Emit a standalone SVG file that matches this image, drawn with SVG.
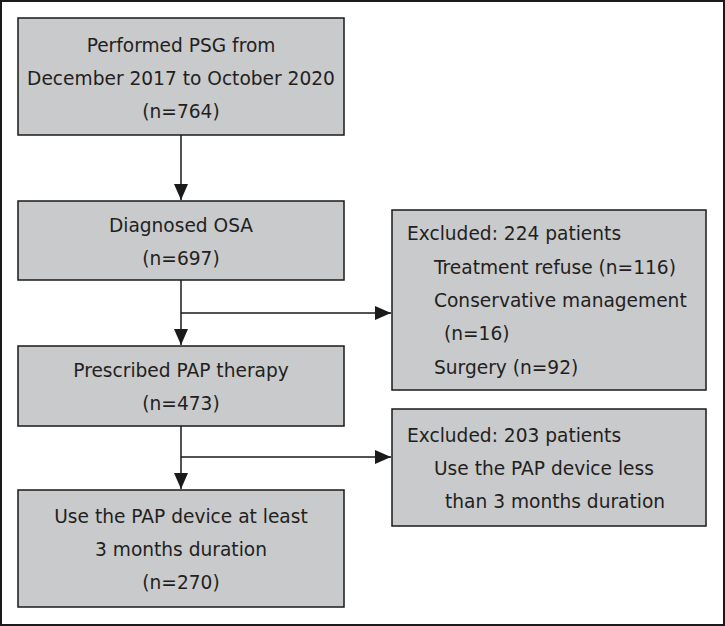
<svg xmlns="http://www.w3.org/2000/svg" width="725" height="626" viewBox="0 0 725 626">
<style>
.box{fill:#c9cacc;stroke:#1a1a1a;stroke-width:1.5}
.t{font-family:"DejaVu Sans",sans-serif;font-size:18.6px;fill:#231f20}
.c{text-anchor:middle}
.ln{stroke:#1a1a1a;stroke-width:1.5;fill:none}
</style>
<defs>
<marker id="ah" markerUnits="userSpaceOnUse" markerWidth="16" markerHeight="14" refX="16" refY="7" orient="auto">
<path d="M0,0 L16,7 L0,14 Z" fill="#1a1a1a"/>
</marker>
</defs>
<rect x="1" y="1" width="723" height="624" fill="#fff" stroke="#1a1a1a" stroke-width="2"/>
<g id="n1">
<rect class="box" x="18" y="18" width="326" height="117"/>
<text class="t c" x="181" y="52">Performed PSG from</text>
<text class="t c" x="181" y="85">December 2017 to October 2020</text>
<text class="t c" x="181" y="118">(n=764)</text>
</g>
<g id="n2">
<rect class="box" x="18" y="201" width="326" height="79"/>
<text class="t c" x="181" y="232">Diagnosed OSA</text>
<text class="t c" x="181" y="265">(n=697)</text>
</g>
<g id="n3">
<rect class="box" x="18" y="346" width="326" height="80"/>
<text class="t c" x="181" y="377">Prescribed PAP therapy</text>
<text class="t c" x="181" y="410">(n=473)</text>
</g>
<g id="n4">
<rect class="box" x="18" y="490" width="326" height="117"/>
<text class="t c" x="181" y="523">Use the PAP device at least</text>
<text class="t c" x="181" y="556">3 months duration</text>
<text class="t c" x="181" y="589">(n=270)</text>
</g>
<g id="e1">
<rect class="box" x="392" y="210" width="314" height="180"/>
<text class="t" x="407" y="240">Excluded: 224 patients</text>
<text class="t" x="434" y="274">Treatment refuse (n=116)</text>
<text class="t" x="434" y="307">Conservative management</text>
<text class="t" x="444" y="340">(n=16)</text>
<text class="t" x="434" y="374">Surgery (n=92)</text>
</g>
<g id="e2">
<rect class="box" x="392" y="409" width="314" height="117"/>
<text class="t" x="407" y="442">Excluded: 203 patients</text>
<text class="t" x="434" y="475">Use the PAP device less</text>
<text class="t" x="445" y="508">than 3 months duration</text>
</g>
<g id="connectors">
<line class="ln" x1="181" y1="135" x2="181" y2="200" marker-end="url(#ah)"/>
<line class="ln" x1="181" y1="280" x2="181" y2="345" marker-end="url(#ah)"/>
<line class="ln" x1="181" y1="313" x2="391" y2="313" marker-end="url(#ah)"/>
<line class="ln" x1="181" y1="426" x2="181" y2="489" marker-end="url(#ah)"/>
<line class="ln" x1="181" y1="457" x2="391" y2="457" marker-end="url(#ah)"/>
</g>
</svg>
